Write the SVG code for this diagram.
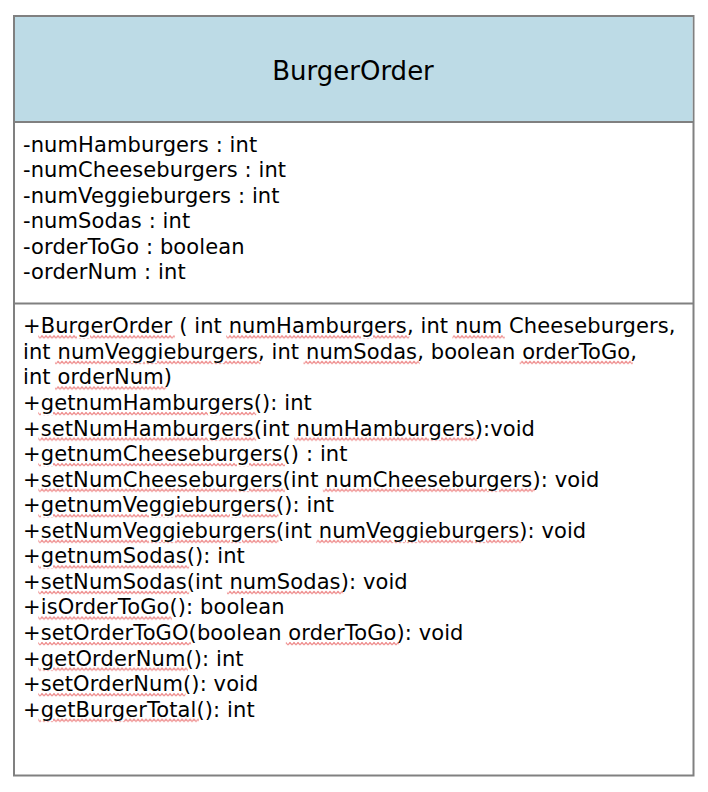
<svg xmlns="http://www.w3.org/2000/svg" width="708" height="792" viewBox="0 0 708 792">
<style>
.t{font-family:"DejaVu Sans","Verdana",sans-serif;font-size:21px;letter-spacing:0.1px;fill:#000}
.h{font-family:"DejaVu Sans","Verdana",sans-serif;font-size:26px;fill:#000}
.w{text-decoration:underline;fill:url(#wv);stroke:url(#wv);stroke-width:5}
.k{fill:#000;stroke:none}
</style>
<defs>
<pattern id="wv" patternUnits="userSpaceOnUse" x="0" y="333.3" width="4" height="25.56">
<path d="M0,5 L2,2.6 L4,5" fill="none" stroke="#ef9090" stroke-width="1.1"/>
</pattern>
</defs>
<rect x="0" y="0" width="708" height="792" fill="#fff"/>
<g id="BurgerOrder">
<rect x="14" y="16" width="679.5" height="759.5" fill="#fff" stroke="#808080" stroke-width="2"/>
<rect x="15" y="17" width="677.5" height="105" fill="#bddbe6"/>
<line x1="14" y1="122" x2="693.5" y2="122" stroke="#808080" stroke-width="2"/>
<line x1="14" y1="303.5" x2="693.5" y2="303.5" stroke="#808080" stroke-width="2"/>
<text class="h" x="353" y="80" text-anchor="middle">BurgerOrder</text>
<g id="attributes">
<text class="t" x="23" y="151.7">-numHamburgers : int</text>
<text class="t" x="23" y="177.2">-numCheeseburgers : int</text>
<text class="t" x="23" y="202.7">-numVeggieburgers : int</text>
<text class="t" x="23" y="228.2">-numSodas : int</text>
<text class="t" x="23" y="253.7">-orderToGo : boolean</text>
<text class="t" x="23" y="279.2">-orderNum : int</text>
</g>
<g id="methods">
<text class="t" x="23" y="333.3">+<tspan class="w"><tspan class="k">BurgerOrder</tspan></tspan> ( int <tspan class="w"><tspan class="k">numHamburgers</tspan></tspan>, int <tspan class="w"><tspan class="k">num</tspan></tspan> Cheeseburgers,</text>
<text class="t" x="23" y="358.86">int <tspan class="w"><tspan class="k">numVeggieburgers</tspan></tspan>, int <tspan class="w"><tspan class="k">numSodas</tspan></tspan>, boolean <tspan class="w"><tspan class="k">orderToGo</tspan></tspan>,</text>
<text class="t" x="23" y="384.42">int <tspan class="w"><tspan class="k">orderNum</tspan></tspan>)</text>
<text class="t" x="23" y="409.98">+<tspan class="w"><tspan class="k">getnumHamburgers</tspan></tspan>(): int</text>
<text class="t" x="23" y="435.54">+<tspan class="w"><tspan class="k">setNumHamburgers</tspan></tspan>(int <tspan class="w"><tspan class="k">numHamburgers</tspan></tspan>):void</text>
<text class="t" x="23" y="461.1">+<tspan class="w"><tspan class="k">getnumCheeseburgers</tspan></tspan>() : int</text>
<text class="t" x="23" y="486.66">+<tspan class="w"><tspan class="k">setNumCheeseburgers</tspan></tspan>(int <tspan class="w"><tspan class="k">numCheeseburgers</tspan></tspan>): void</text>
<text class="t" x="23" y="512.22">+<tspan class="w"><tspan class="k">getnumVeggieburgers</tspan></tspan>(): int</text>
<text class="t" x="23" y="537.78">+<tspan class="w"><tspan class="k">setNumVeggieburgers</tspan></tspan>(int <tspan class="w"><tspan class="k">numVeggieburgers</tspan></tspan>): void</text>
<text class="t" x="23" y="563.34">+<tspan class="w"><tspan class="k">getnumSodas</tspan></tspan>(): int</text>
<text class="t" x="23" y="588.9">+<tspan class="w"><tspan class="k">setNumSodas</tspan></tspan>(int <tspan class="w"><tspan class="k">numSodas</tspan></tspan>): void</text>
<text class="t" x="23" y="614.46">+<tspan class="w"><tspan class="k">isOrderToGo</tspan></tspan>(): boolean</text>
<text class="t" x="23" y="640.02">+<tspan class="w"><tspan class="k">setOrderToGO</tspan></tspan>(boolean <tspan class="w"><tspan class="k">orderToGo</tspan></tspan>): void</text>
<text class="t" x="23" y="665.58">+<tspan class="w"><tspan class="k">getOrderNum</tspan></tspan>(): int</text>
<text class="t" x="23" y="691.14">+<tspan class="w"><tspan class="k">setOrderNum</tspan></tspan>(): void</text>
<text class="t" x="23" y="716.7">+<tspan class="w"><tspan class="k">getBurgerTotal</tspan></tspan>(): int</text>
</g>
</g>
</svg>
